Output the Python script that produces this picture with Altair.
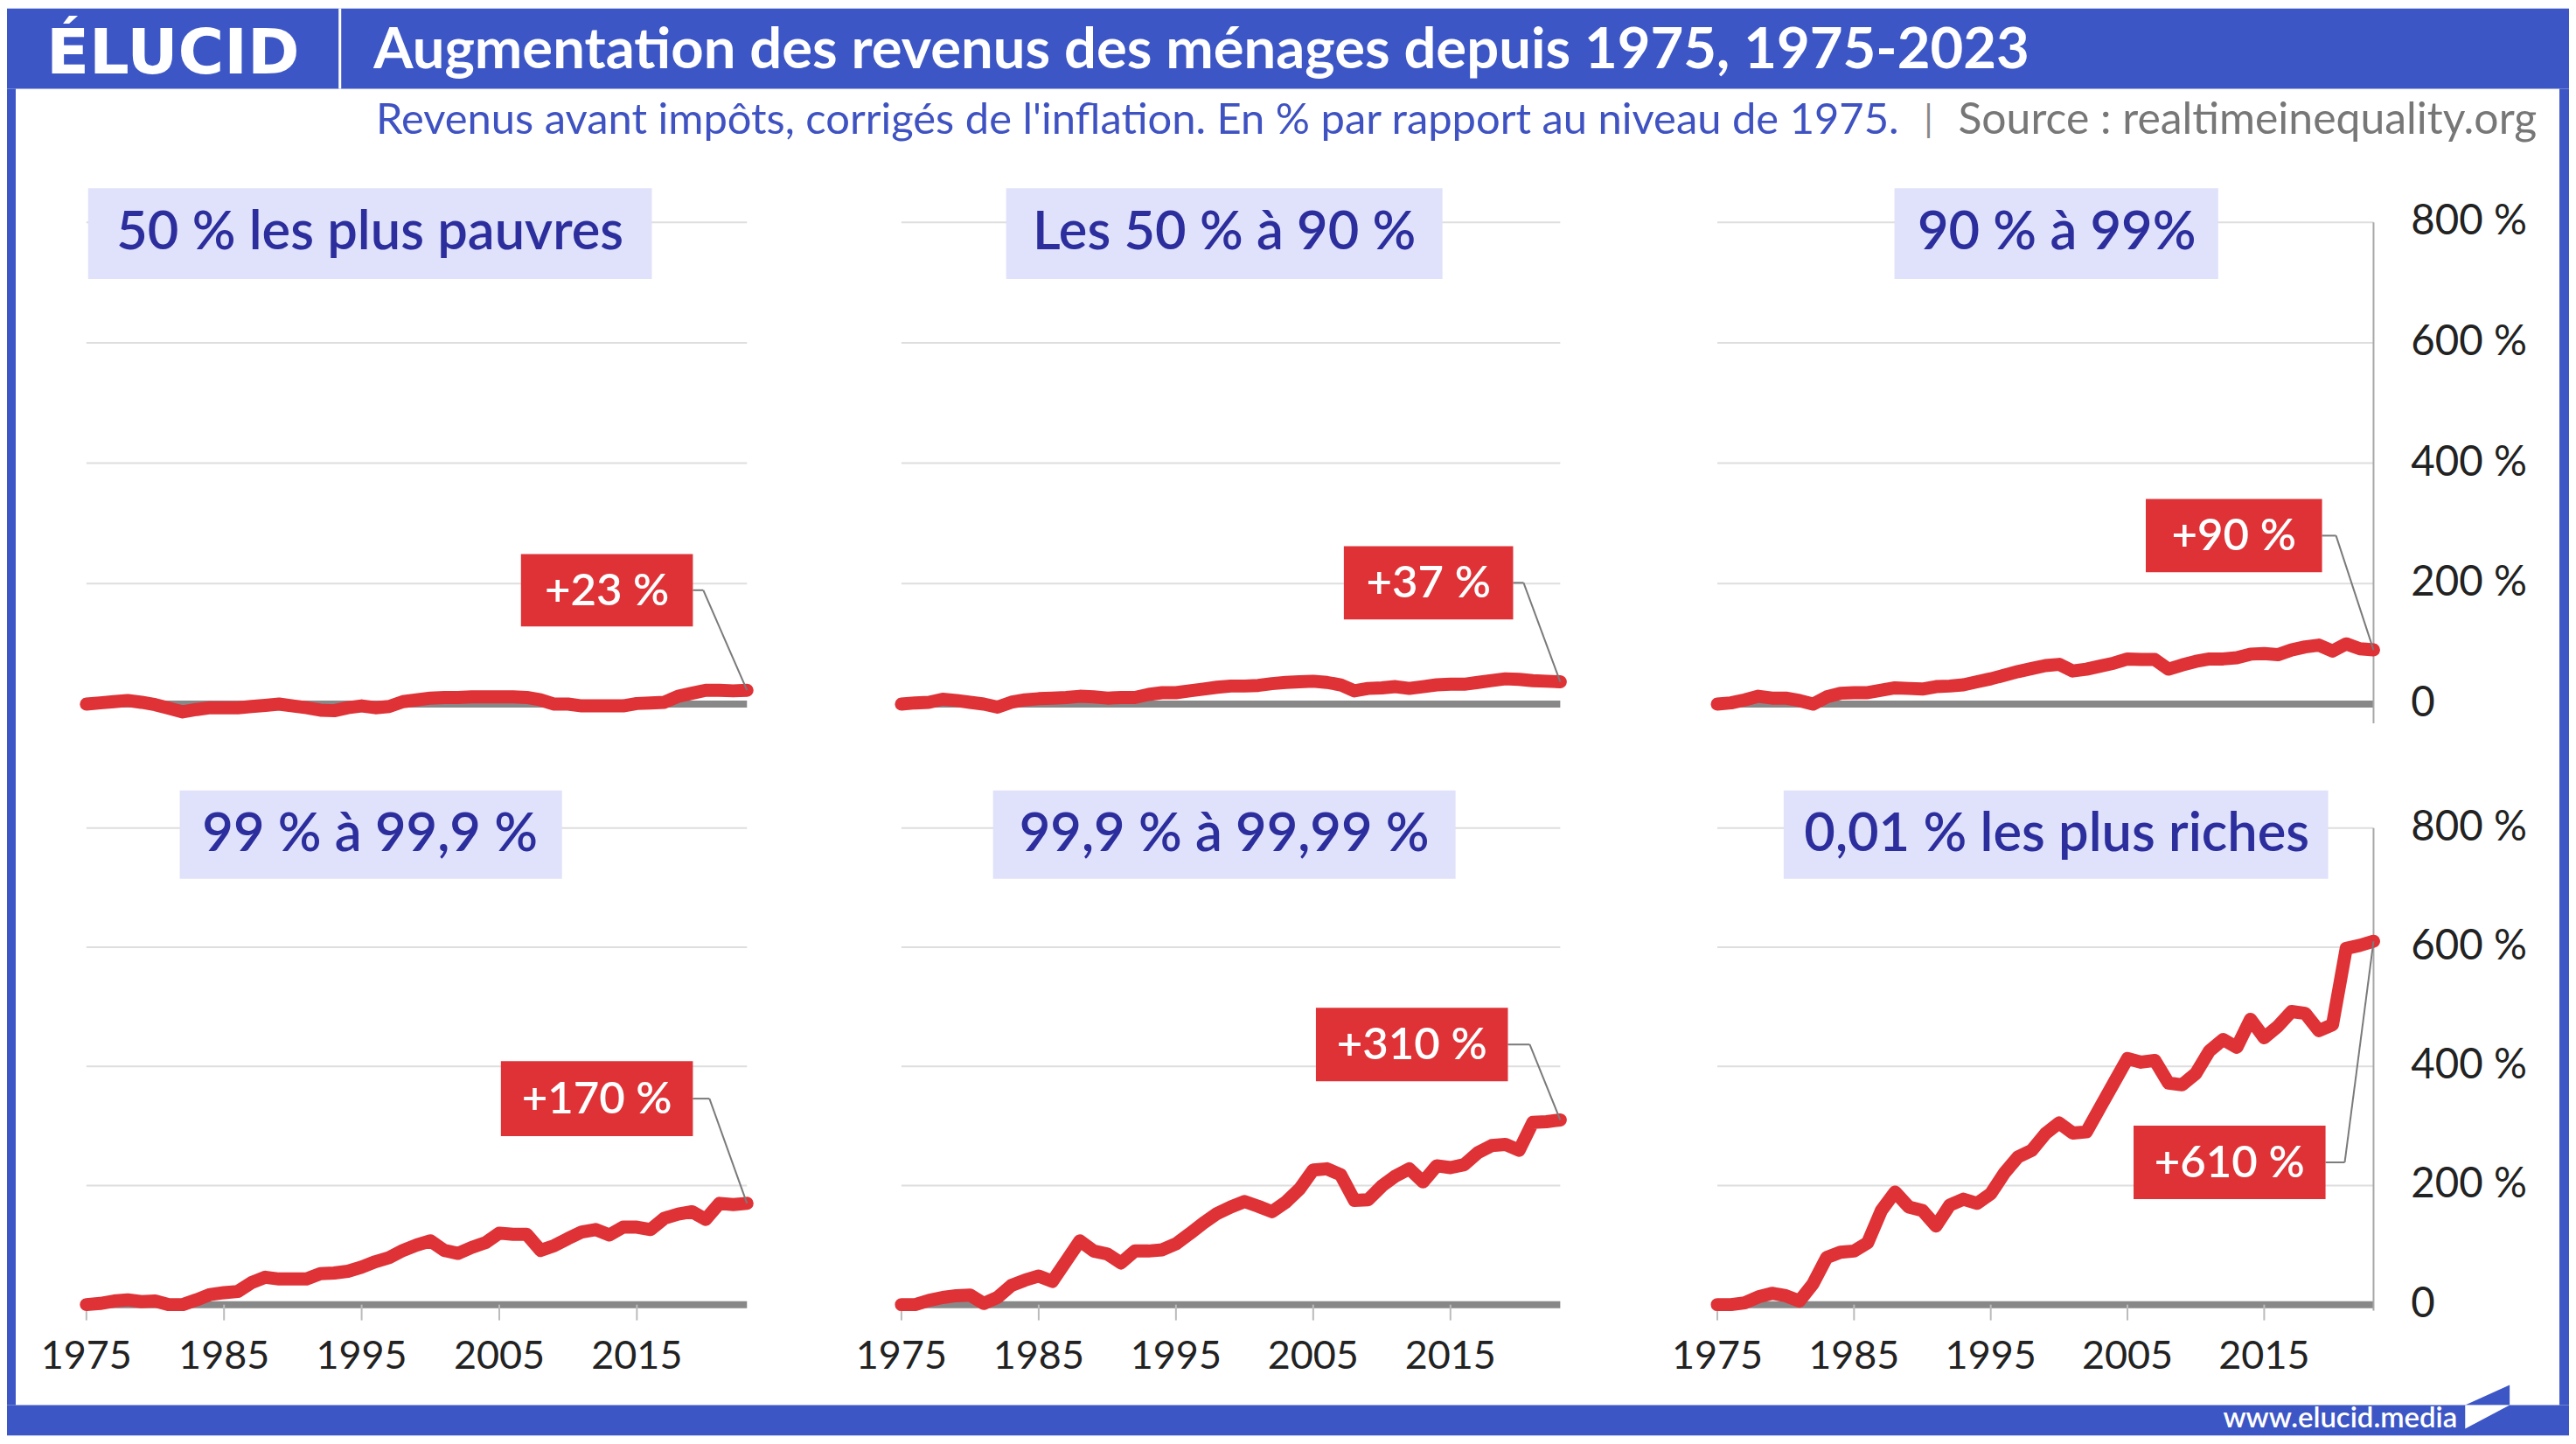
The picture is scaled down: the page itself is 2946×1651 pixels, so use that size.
import altair as alt
import pandas as pd

# ---------------- data ----------------
years = list(range(1975, 2024))

titles = ["50 % les plus pauvres", "Les 50 % à 90 %", "90 % à 99%",
          "99 % à 99,9 %", "99,9 % à 99,99 %", "0,01 % les plus riches"]

bottom50 = [0, 2, 4, 6, 3, -1, -7, -13, -9, -6,
            -6, -6, -4, -2, 0, -3, -6, -10, -11, -6,
            -3, -6, -4, 4, 7, 10, 11, 11, 12, 12,
            12, 12, 11, 7, 0, 0, -3, -3, -3, -3,
            1, 2, 3, 13, 18, 23, 23, 22, 23]
p50_90 = [0, 2, 3, 8, 6, 3, 0, -5, 3, 7,
          9, 10, 11, 13, 12, 10, 11, 11, 16, 19,
          19, 22, 25, 28, 30, 30, 31, 34, 36, 37,
          38, 36, 32, 22, 26, 27, 29, 26, 29, 32,
          33, 33, 36, 39, 42, 41, 39, 38, 37]
p90_99 = [0, 2, 7, 13, 10, 10, 6, 0, 12, 18,
          19, 19, 23, 27, 26, 25, 29, 30, 32, 37,
          42, 48, 54, 59, 64, 66, 55, 58, 63, 68,
          75, 74, 74, 58, 65, 71, 75, 75, 77, 83,
          84, 82, 90, 95, 98, 88, 100, 92, 90]
p99_999 = [0, 2, 6, 8, 5, 6, 0, 0, 8, 17,
           20, 22, 37, 46, 43, 43, 43, 52, 53, 56,
           63, 72, 79, 91, 100, 107, 91, 86, 96, 104,
           120, 118, 118, 91, 99, 111, 122, 126, 117, 130,
           130, 126, 145, 152, 156, 143, 170, 168, 170]
p999_9999 = [0, 0, 7, 12, 15, 16, 2, 12, 32, 41,
             48, 39, 73, 107, 90, 85, 70, 90, 90, 92,
             102, 119, 137, 153, 164, 173, 165, 156, 172, 194,
             226, 228, 218, 175, 176, 199, 216, 228, 206, 233,
             230, 235, 255, 267, 269, 259, 306, 307, 310]
top001 = [0, 0, 3, 13, 19, 15, 6, 35, 79, 88,
          90, 104, 158, 189, 164, 158, 132, 167, 177, 170,
          186, 221, 248, 259, 287, 305, 288, 290, 331, 372,
          413, 407, 410, 372, 369, 388, 426, 445, 432, 479,
          448, 467, 492, 489, 460, 470, 598, 603, 610]
series = [bottom50, p50_90, p90_99, p99_999, p999_9999, top001]

grid_values = [200, 400, 600, 800]
y_ticks = [0, 200, 400, 600, 800]
x_ticks = [1975, 1985, 1995, 2005, 2015]

title_text = "Augmentation des revenus des ménages depuis 1975, 1975-2023"
subtitle_text = "Revenus avant impôts, corrigés de l'inflation. En % par rapport au niveau de 1975."
source_text = "Source : realtimeinequality.org"
logo_text = "ÉLUCID"
site_text = "www.elucid.media"

# ---------------- style ----------------
FONT = "Lato"
BLUE = "#3D56C6"
RED = "#DF3236"
BOXBG = "#E0E1FA"
BOXTXT = "#2B2E9C"
GRID = "#dedede"

COLS = [
    dict(w=927, x0=81, x1=838, tb=[(83, 729), (188, 626)], tc=406),
    dict(w=935, x0=88, x1=843, tb=[(208, 708), (193, 723)], tc=458),
    dict(w=1053, x0=88, x1=840, tb=[(291, 662), (164, 788)], tc=477),
]
ROWS = [
    dict(h=680, y0=615, y800=63, tby=(24, 128), tcy=76, axis_end=637),
    dict(h=738, y0=623, y800=77, tby=(34, 135), tcy=85, axis_end=630),
]
ANN = [
    (579, 776, 443, 526, 788),
    (595, 789, 434, 518, 801),
    (579, 781, 380, 464, 797),
    (556, 776, 344, 430, 795),
    (563, 783, 283, 367, 808),
    (565, 785, 418, 502, 807),
]
TOTAL_W = 2936
BODY_H = 1508
LEFT_W = 10
RIGHT_W = TOTAL_W - LEFT_W - sum(c["w"] for c in COLS)

one = pd.DataFrame({"a": [0]})


def panel(idx):
    row, col = divmod(idx, 3)
    cg, rg = COLS[col], ROWS[row]
    xs = alt.Scale(domain=[1975, 2023], range=[cg["x0"], cg["x1"]], nice=False, zero=False)
    ys = alt.Scale(domain=[0, 800], range=[rg["y0"], rg["y800"]], nice=False, zero=False)
    df = pd.DataFrame({"year": years, "v": series[idx]})
    last = pd.DataFrame({"year": [years[-1]], "v": [series[idx][-1]]})

    layers = []
    layers.append(
        alt.Chart(pd.DataFrame({"g": grid_values})).mark_rule(color=GRID, strokeWidth=2).encode(
            x=alt.XDatum(1975, type="quantitative", scale=xs, axis=None),
            x2=alt.X2Datum(2023),
            y=alt.Y("g:Q", scale=ys, axis=None),
        )
    )
    layers.append(
        alt.Chart(one).mark_rule(color="#888888", strokeWidth=8).encode(
            x=alt.XDatum(1975, type="quantitative", scale=xs, axis=None),
            x2=alt.X2Datum(2023),
            y=alt.YDatum(0, type="quantitative", scale=ys, axis=None),
        )
    )
    if row == 1:
        tk = pd.DataFrame({"t": x_ticks, "lab": [str(t) for t in x_ticks]})
        layers.append(
            alt.Chart(tk).mark_rule(color="#bbbbbb", strokeWidth=2).encode(
                x=alt.X("t:Q", scale=xs, axis=None),
                y=alt.value(rg["y0"]), y2=alt.value(rg["y0"] + 18),
            )
        )
        layers.append(
            alt.Chart(tk).mark_text(font=FONT, fontSize=45, color="#222222", baseline="middle").encode(
                x=alt.X("t:Q", scale=xs, axis=None),
                y=alt.value(683),
                text="lab:N",
            )
        )
    if col == 2:
        layers.append(
            alt.Chart(one).mark_rule(color="#a8a8a8", strokeWidth=2).encode(
                x=alt.XDatum(2023, type="quantitative", scale=xs, axis=None),
                y=alt.YDatum(800, type="quantitative", scale=ys, axis=None),
                y2=alt.value(rg["axis_end"]),
            )
        )
        yl = pd.DataFrame({"v": y_ticks, "lab": ["0" if v == 0 else f"{v} %" for v in y_ticks]})
        layers.append(
            alt.Chart(yl).mark_text(font=FONT, fontSize=47.5, color="#222222", align="left", baseline="middle").encode(
                x=alt.value(883),
                y=alt.Y("v:Q", scale=ys, axis=None),
                text="lab:N",
            )
        )
    layers.append(
        alt.Chart(df).mark_line(color=RED, strokeWidth=15, strokeCap="round", strokeJoin="round").encode(
            x=alt.X("year:Q", scale=xs, axis=None),
            y=alt.Y("v:Q", scale=ys, axis=None),
        )
    )
    # panel title
    bx0, bx1 = cg["tb"][row]
    by0, by1 = rg["tby"]
    layers.append(
        alt.Chart(one).mark_rect(color=BOXBG).encode(
            x=alt.value(bx0), x2=alt.value(bx1), y=alt.value(by0), y2=alt.value(by1)
        )
    )
    layers.append(
        alt.Chart(pd.DataFrame({"t": [titles[idx]]})).mark_text(
            font=FONT, fontSize=61.5, fontWeight=600, color=BOXTXT, align="center", baseline="middle"
        ).encode(x=alt.value(cg["tc"]), y=alt.value(rg["tcy"]), text="t:N")
    )
    # annotation
    ax0, ax1, ay0, ay1, hx = ANN[idx]
    hy = (ay0 + ay1) / 2
    layers.append(
        alt.Chart(last).mark_rule(color="#7a7a7a", strokeWidth=2).encode(
            x=alt.X("year:Q", scale=xs, axis=None),
            y=alt.Y("v:Q", scale=ys, axis=None),
            x2=alt.value(hx), y2=alt.value(hy),
        )
    )
    layers.append(
        alt.Chart(one).mark_rule(color="#7a7a7a", strokeWidth=2).encode(
            x=alt.value(ax1), x2=alt.value(hx), y=alt.value(hy)
        )
    )
    layers.append(
        alt.Chart(one).mark_rect(color=RED).encode(
            x=alt.value(ax0), x2=alt.value(ax1), y=alt.value(ay0), y2=alt.value(ay1)
        )
    )
    layers.append(
        alt.Chart(last).transform_calculate(lab="'+' + datum.v + ' %'").mark_text(
            font=FONT, fontSize=51, fontWeight=600, color="white", align="center", baseline="middle"
        ).encode(x=alt.value((ax0 + ax1) / 2), y=alt.value(hy + 2), text="lab:N")
    )
    if idx == 5:
        layers.append(
            alt.Chart(one).mark_point(
                shape="M0,0 L2,-0.9 L2,0 Z", filled=True, color=BLUE, opacity=1, size=2601, strokeWidth=0
            ).encode(x=alt.value(945), y=alt.value(rg["h"]))
        )
    return alt.layer(*layers).properties(width=cg["w"], height=rg["h"])


panels = [panel(i) for i in range(6)]

header = alt.layer(
    alt.Chart(one).mark_rect(color=BLUE).encode(
        x=alt.value(0), x2=alt.value(TOTAL_W), y=alt.value(0), y2=alt.value(92)
    ),
    alt.Chart(pd.DataFrame({"t": [logo_text]})).mark_text(
        font="DejaVu Sans", fontSize=72, fontWeight="bold", color="white", align="left", baseline="alphabetic"
    ).encode(x=alt.value(45), y=alt.value(74), text="t:N"),
    alt.Chart(one).mark_rect(color="white").encode(
        x=alt.value(380), x2=alt.value(383), y=alt.value(0), y2=alt.value(92)
    ),
    alt.Chart(pd.DataFrame({"t": [title_text]})).mark_text(
        font=FONT, fontSize=65.3, fontWeight="bold", color="white", align="left", baseline="middle"
    ).encode(x=alt.value(420), y=alt.value(48), text="t:N"),
).properties(width=TOTAL_W, height=92)

subtitle = alt.layer(
    alt.Chart(pd.DataFrame({"t": [subtitle_text]})).mark_text(
        font=FONT, fontSize=49, color="#3F52C2", align="right", baseline="middle"
    ).encode(x=alt.value(2158), y=alt.value(37), text="t:N"),
    alt.Chart(pd.DataFrame({"t": ["|"]})).mark_text(
        font=FONT, fontSize=42, color="#888888", align="center", baseline="middle"
    ).encode(x=alt.value(2192), y=alt.value(37), text="t:N"),
    alt.Chart(pd.DataFrame({"t": [source_text]})).mark_text(
        font=FONT, fontSize=50, color="#777777", align="left", baseline="middle"
    ).encode(x=alt.value(2226), y=alt.value(37), text="t:N"),
).properties(width=sum(c["w"] for c in COLS), height=90)

footer = alt.layer(
    alt.Chart(one).mark_rect(color=BLUE).encode(
        x=alt.value(0), x2=alt.value(TOTAL_W), y=alt.value(0), y2=alt.value(35)
    ),
    alt.Chart(pd.DataFrame({"t": [site_text]})).mark_text(
        font=FONT, fontSize=33, fontWeight=600, color="white", align="right", baseline="middle"
    ).encode(x=alt.value(2808), y=alt.value(16), text="t:N"),
    alt.Chart(one).mark_point(
        shape="M0,0 L2,0 L0,1.06 Z", filled=True, color="white", opacity=1, size=2601, strokeWidth=0
    ).encode(x=alt.value(2817), y=alt.value(0)),
).properties(width=TOTAL_W, height=35)


def strip(w):
    return alt.Chart(one).mark_rect(color=BLUE).encode(
        x=alt.value(0), x2=alt.value(w), y=alt.value(0), y2=alt.value(BODY_H)
    ).properties(width=w, height=BODY_H)


row1 = alt.hconcat(*panels[:3], spacing=0)
row2 = alt.hconcat(*panels[3:], spacing=0)
inner = alt.vconcat(subtitle, row1, row2, spacing=0)
body = alt.hconcat(strip(LEFT_W), inner, strip(RIGHT_W), spacing=0)

chart = alt.vconcat(header, body, footer, spacing=0).properties(
    padding=0, background="white"
).configure_view(strokeWidth=0)

chart.save("out.html", embed_options={"renderer": "svg", "actions": False})
